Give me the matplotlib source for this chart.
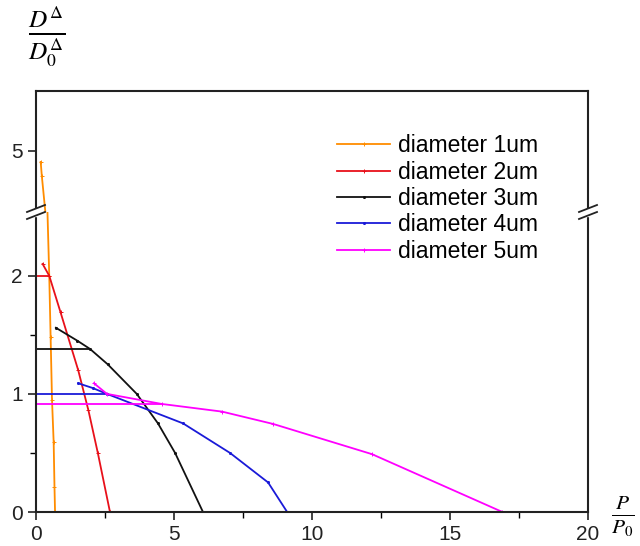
import matplotlib.pyplot as plt
from matplotlib.lines import Line2D
from matplotlib.patches import Rectangle

plt.rcParams['font.family'] = ['Liberation Sans', 'DejaVu Sans']
plt.rcParams['mathtext.fontset'] = 'stix'

# data
labels = ['diameter 1um', 'diameter 2um', 'diameter 3um', 'diameter 4um', 'diameter 5um']
colors = ['#ff8c00', '#e8101a', '#111111', '#1a1ad8', '#ff00ff']
markers = ['+', '+', '.', '.', '+']

d1_x = [0.17, 0.21, 0.48, 0.53, 0.58, 0.64, 0.67, 0.69]
d1_y = [4.67, 4.26, 2.0, 1.48, 0.95, 0.59, 0.21, 0.0]
d2_x = [0.24, 0.48, 0.89, 1.53, 1.9, 2.24, 2.68]
d2_y = [2.1, 2.0, 1.69, 1.2, 0.86, 0.5, 0.0]
d3_x = [0.72, 1.5, 1.96, 2.6, 3.65, 4.42, 5.04, 6.05]
d3_y = [1.56, 1.45, 1.38, 1.25, 1.0, 0.75, 0.5, 0.0]
d4_x = [1.53, 2.05, 2.57, 5.33, 7.03, 8.41, 9.1]
d4_y = [1.09, 1.05, 1.0, 0.75, 0.5, 0.25, 0.0]
d5_x = [2.1, 2.57, 4.55, 6.74, 8.6, 12.17, 16.9]
d5_y = [1.09, 1.0, 0.915, 0.85, 0.745, 0.49, 0.0]

# horizontal start lines (from x=0 to the first junction)
base_y = [None, 2.0, 1.38, 1.0, 0.915]
base_xend = [None, 0.48, 1.96, 2.57, 4.55]

series_x = [d1_x, d2_x, d3_x, d4_x, d5_x]
series_y = [d1_y, d2_y, d3_y, d4_y, d5_y]

fig = plt.figure(figsize=(6.4, 5.46), dpi=100)
W, H = 640, 546
left, right = 36 / W, 588 / W
y_top, y_brk, y_bot = 91, 212, 512
ax_t = fig.add_axes([left, 1 - y_brk / H, right - left, (y_brk - y_top) / H])
ax_b = fig.add_axes([left, 1 - y_bot / H, right - left, (y_bot - y_brk) / H])

handles = []
for ax in (ax_t, ax_b):
    for i in range(5):
        ln, = ax.plot(series_x[i], series_y[i], color=colors[i], lw=1.3,
                      marker=markers[i], ms=3, mew=0.7)
        if base_y[i] is not None:
            ax.plot([0, base_xend[i]], [base_y[i], base_y[i]], color=colors[i], lw=1.3)
        if ax is ax_b:
            handles.append(ln)

ax_b.set_xlim(0, 20)
ax_t.set_xlim(0, 20)
ax_b.set_ylim(0, 2.54)
ax_t.set_ylim(3.18, 6.78)

ax_b.set_xticks([0, 5, 10, 15, 20])
ax_b.set_xticks([2.5, 7.5, 12.5, 17.5], minor=True)
ax_b.set_yticks([0, 1, 2])
ax_b.set_yticks([0.5, 1.5], minor=True)
ax_t.set_yticks([5])
ax_t.set_xticks([])

for ax in (ax_t, ax_b):
    ax.tick_params(axis='both', which='major', direction='out', length=6, width=1.2,
                   labelsize=15, colors='#222222')
    ax.tick_params(axis='both', which='minor', direction='out', length=4, width=1.0)
    ax.tick_params(right=False, top=False)
    for s in ax.spines.values():
        s.set_linewidth(1.5)
        s.set_color('#222222')
ax_t.spines['bottom'].set_visible(False)
ax_b.spines['top'].set_visible(False)

# break marks on both vertical spines
for xpx in (36, 588):
    fig.add_artist(Rectangle(((xpx - 3) / W, 1 - 216 / H), 6 / W, 7 / H,
                             transform=fig.transFigure, color='white', zorder=5))
    for dy in (-3.5, 3.5):
        yc = y_brk + dy
        fig.add_artist(Line2D([(xpx - 9) / W, (xpx + 9) / W],
                              [1 - (yc + 3.5) / H, 1 - (yc - 3.5) / H],
                              transform=fig.transFigure, color='#222222', lw=1.3, zorder=6))

fig.legend(handles, labels, loc='upper left', bbox_to_anchor=(328 / W, 1 - 125 / H),
           frameon=False, fontsize=16.5, handlelength=2.3, handletextpad=0.35,
           labelspacing=0.15, borderaxespad=0)

fig.text(47 / W, 1 - 36 / H, r'$\frac{D^{\Delta}}{D_0^{\Delta}}$', fontsize=26,
         ha='center', va='center')
fig.text(611 / W, 1 - 516 / H, r'$\frac{P}{P_0}$', fontsize=22, ha='left', va='center')

fig.savefig('out.png', dpi=100)
